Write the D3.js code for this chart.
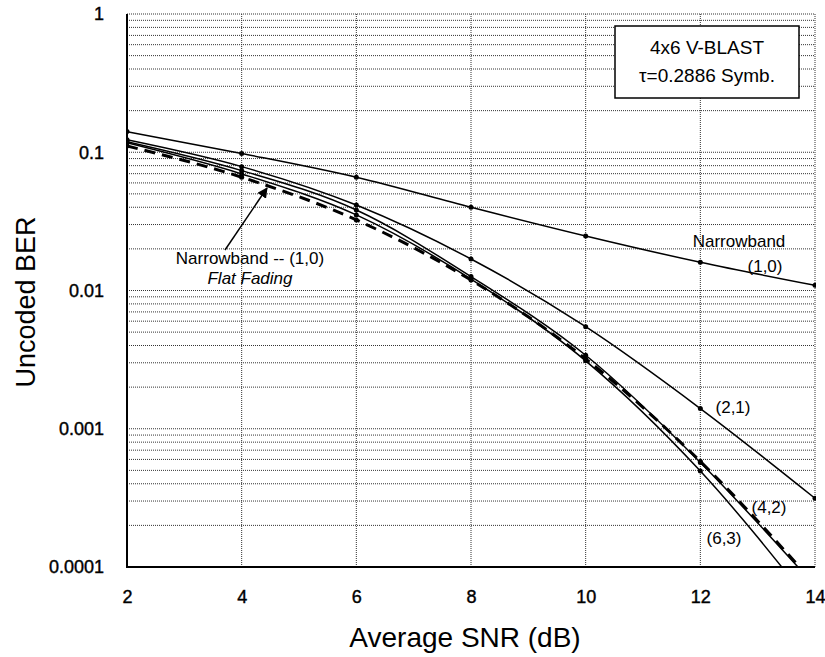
<!DOCTYPE html>
<html>
<head>
<meta charset="utf-8">
<script src="https://cdn.jsdelivr.net/npm/d3@7"></script>
<style>
  body { margin: 0; background: #fff; }
  text { font-family: "Liberation Sans", Arial, Helvetica, sans-serif; fill: #000; }
</style>
</head>
<body>
<div id="chart"></div>
<script>
// data
var snr = [2, 4, 6, 8, 10, 12, 14];
var ber10 = [0.141, 0.098, 0.066, 0.040, 0.0248, 0.016, 0.0109];
var ber21 = [0.123, 0.0787, 0.0415, 0.0169, 0.00547, 0.0014, 0.000314];
var ber42 = [0.119, 0.0736, 0.0382, 0.0126, 0.0034, 0.00057, 0.000073];
var ber63 = [0.117, 0.0697, 0.0352, 0.0121, 0.0031, 0.000494, 0.00005];
var berFlat = [0.111, 0.066, 0.0324, 0.0119, 0.0032, 0.00058, 0.000075];
var yTicks = [0.0001, 0.001, 0.01, 0.1, 1];
var xTicks = [2, 4, 6, 8, 10, 12, 14];

var W = 825, H = 657;
var margin = {top: 14, right: 10, bottom: 90, left: 127};
var width = 815 - margin.left, height = 567 - margin.top;

var svg = d3.select("#chart").append("svg")
    .attr("width", W)
    .attr("height", H);

var g = svg.append("g")
    .attr("transform", "translate(" + margin.left + "," + margin.top + ")");

var x = d3.scaleLinear().domain([2, 14]).range([0, width]);
var y = d3.scaleLog().domain([0.0001, 1]).range([height, 0]);

// minor horizontal grid (2..9 of each decade) plus decade lines
var minor = [];
for (var d = 0; d < 4; d++) {
  for (var m = 1; m < 10; m++) {
    var v = m * Math.pow(10, -4 + d);
    if (v > 0.0001) minor.push(v);
  }
}
minor.push(1);

g.selectAll(".hgrid")
  .data(minor)
  .enter().append("line")
    .attr("class", "hgrid")
    .attr("x1", 0).attr("x2", width)
    .attr("y1", function(d) { return y(d); })
    .attr("y2", function(d) { return y(d); })
    .attr("stroke", "#333")
    .attr("stroke-width", 1)
    .attr("stroke-dasharray", "1,1");

g.selectAll(".vgrid")
  .data(xTicks.slice(1))
  .enter().append("line")
    .attr("class", "vgrid")
    .attr("x1", function(d) { return x(d); })
    .attr("x2", function(d) { return x(d); })
    .attr("y1", 0).attr("y2", height)
    .attr("stroke", "#333")
    .attr("stroke-width", 1)
    .attr("stroke-dasharray", "1,1");

// solid left + bottom frame
g.append("path")
  .attr("d", "M0,0V" + height + "H" + width)
  .attr("fill", "none")
  .attr("stroke", "#000")
  .attr("stroke-width", 2);

// axes (labels only)
var xAxis = g.append("g")
  .attr("transform", "translate(0," + height + ")")
  .call(d3.axisBottom(x).tickValues(xTicks).tickSize(0).tickPadding(23));
var yAxis = g.append("g")
  .call(d3.axisLeft(y).tickValues(yTicks).tickSize(0).tickPadding(23)
    .tickFormat(function(d) { return d3.format("")(+d.toPrecision(1)); }));
[xAxis, yAxis].forEach(function(a) {
  a.select(".domain").remove();
  a.selectAll("text")
    .style("font-size", "18px")
    .style("font-family", "Liberation Sans, Arial, sans-serif")
    .attr("fill", "#000")
    .attr("stroke", "#000")
    .attr("stroke-width", 0.4);
});

g.append("clipPath").attr("id", "clip")
  .append("rect").attr("width", width + 1).attr("height", height);

var line = d3.line()
  .curve(d3.curveMonotoneX)
  .x(function(d) { return x(d[0]); })
  .y(function(d) { return y(d[1]); });

function pairs(vals) { return snr.map(function(s, i) { return [s, vals[i]]; }); }

var series = [
  {vals: ber10, dash: null, w: 1.5},
  {vals: ber21, dash: null, w: 1.5},
  {vals: ber42, dash: null, w: 1.5},
  {vals: ber63, dash: null, w: 1.5},
  {vals: berFlat, dash: "11,7", w: 3}
];

var plot = g.append("g").attr("clip-path", "url(#clip)");

series.forEach(function(s) {
  plot.append("path")
    .datum(pairs(s.vals))
    .attr("d", line)
    .attr("fill", "none")
    .attr("stroke", "#000")
    .attr("stroke-width", s.w)
    .attr("stroke-dasharray", s.dash);
  plot.selectAll(null)
    .data(pairs(s.vals).filter(function(d) { return d[1] >= 0.0001; }))
    .enter().append("circle")
      .attr("cx", function(d) { return x(d[0]); })
      .attr("cy", function(d) { return y(d[1]); })
      .attr("r", 2.5)
      .attr("fill", "#000");
});

// curve labels
function label(txt, px, py, anchor, style) {
  svg.append("text")
    .attr("x", px).attr("y", py)
    .attr("text-anchor", anchor || "middle")
    .style("font-size", "17px")
    .style("font-style", style || "normal")
    .text(txt);
}
label("Narrowband", 739, 247);
label("(1,0)", 765, 272);
label("(2,1)", 733, 413);
label("(4,2)", 769, 513);
label("(6,3)", 724, 544);
label("Narrowband -- (1,0)", 250, 264);
label("Flat Fading", 250, 284, "middle", "italic");

// arrow
svg.append("defs").append("marker")
  .attr("id", "arrow")
  .attr("viewBox", "0 0 10 10")
  .attr("refX", 9).attr("refY", 5)
  .attr("markerWidth", 7).attr("markerHeight", 7)
  .attr("orient", "auto")
  .append("path").attr("d", "M0,0L10,5L0,10z").attr("fill", "#000");
svg.append("line")
  .attr("x1", 225).attr("y1", 250)
  .attr("x2", 267).attr("y2", 188)
  .attr("stroke", "#000")
  .attr("stroke-width", 1.5)
  .attr("marker-end", "url(#arrow)");

// info box
svg.append("rect")
  .attr("x", 615).attr("y", 26)
  .attr("width", 184).attr("height", 72)
  .attr("fill", "#fff")
  .attr("stroke", "#000")
  .attr("stroke-width", 1.5);
svg.append("text").attr("x", 707).attr("y", 54)
  .attr("text-anchor", "middle").style("font-size", "19px").text("4x6 V-BLAST");
svg.append("text").attr("x", 707).attr("y", 82)
  .attr("text-anchor", "middle").style("font-size", "19px").text("\u03c4=0.2886 Symb.");

// axis titles
svg.append("text")
  .attr("x", 465).attr("y", 647)
  .attr("text-anchor", "middle")
  .style("font-size", "28px")
  .text("Average SNR (dB)");
svg.append("text")
  .attr("transform", "translate(35,302) rotate(-90)")
  .attr("text-anchor", "middle")
  .style("font-size", "27px")
  .text("Uncoded BER");
</script>
</body>
</html>
